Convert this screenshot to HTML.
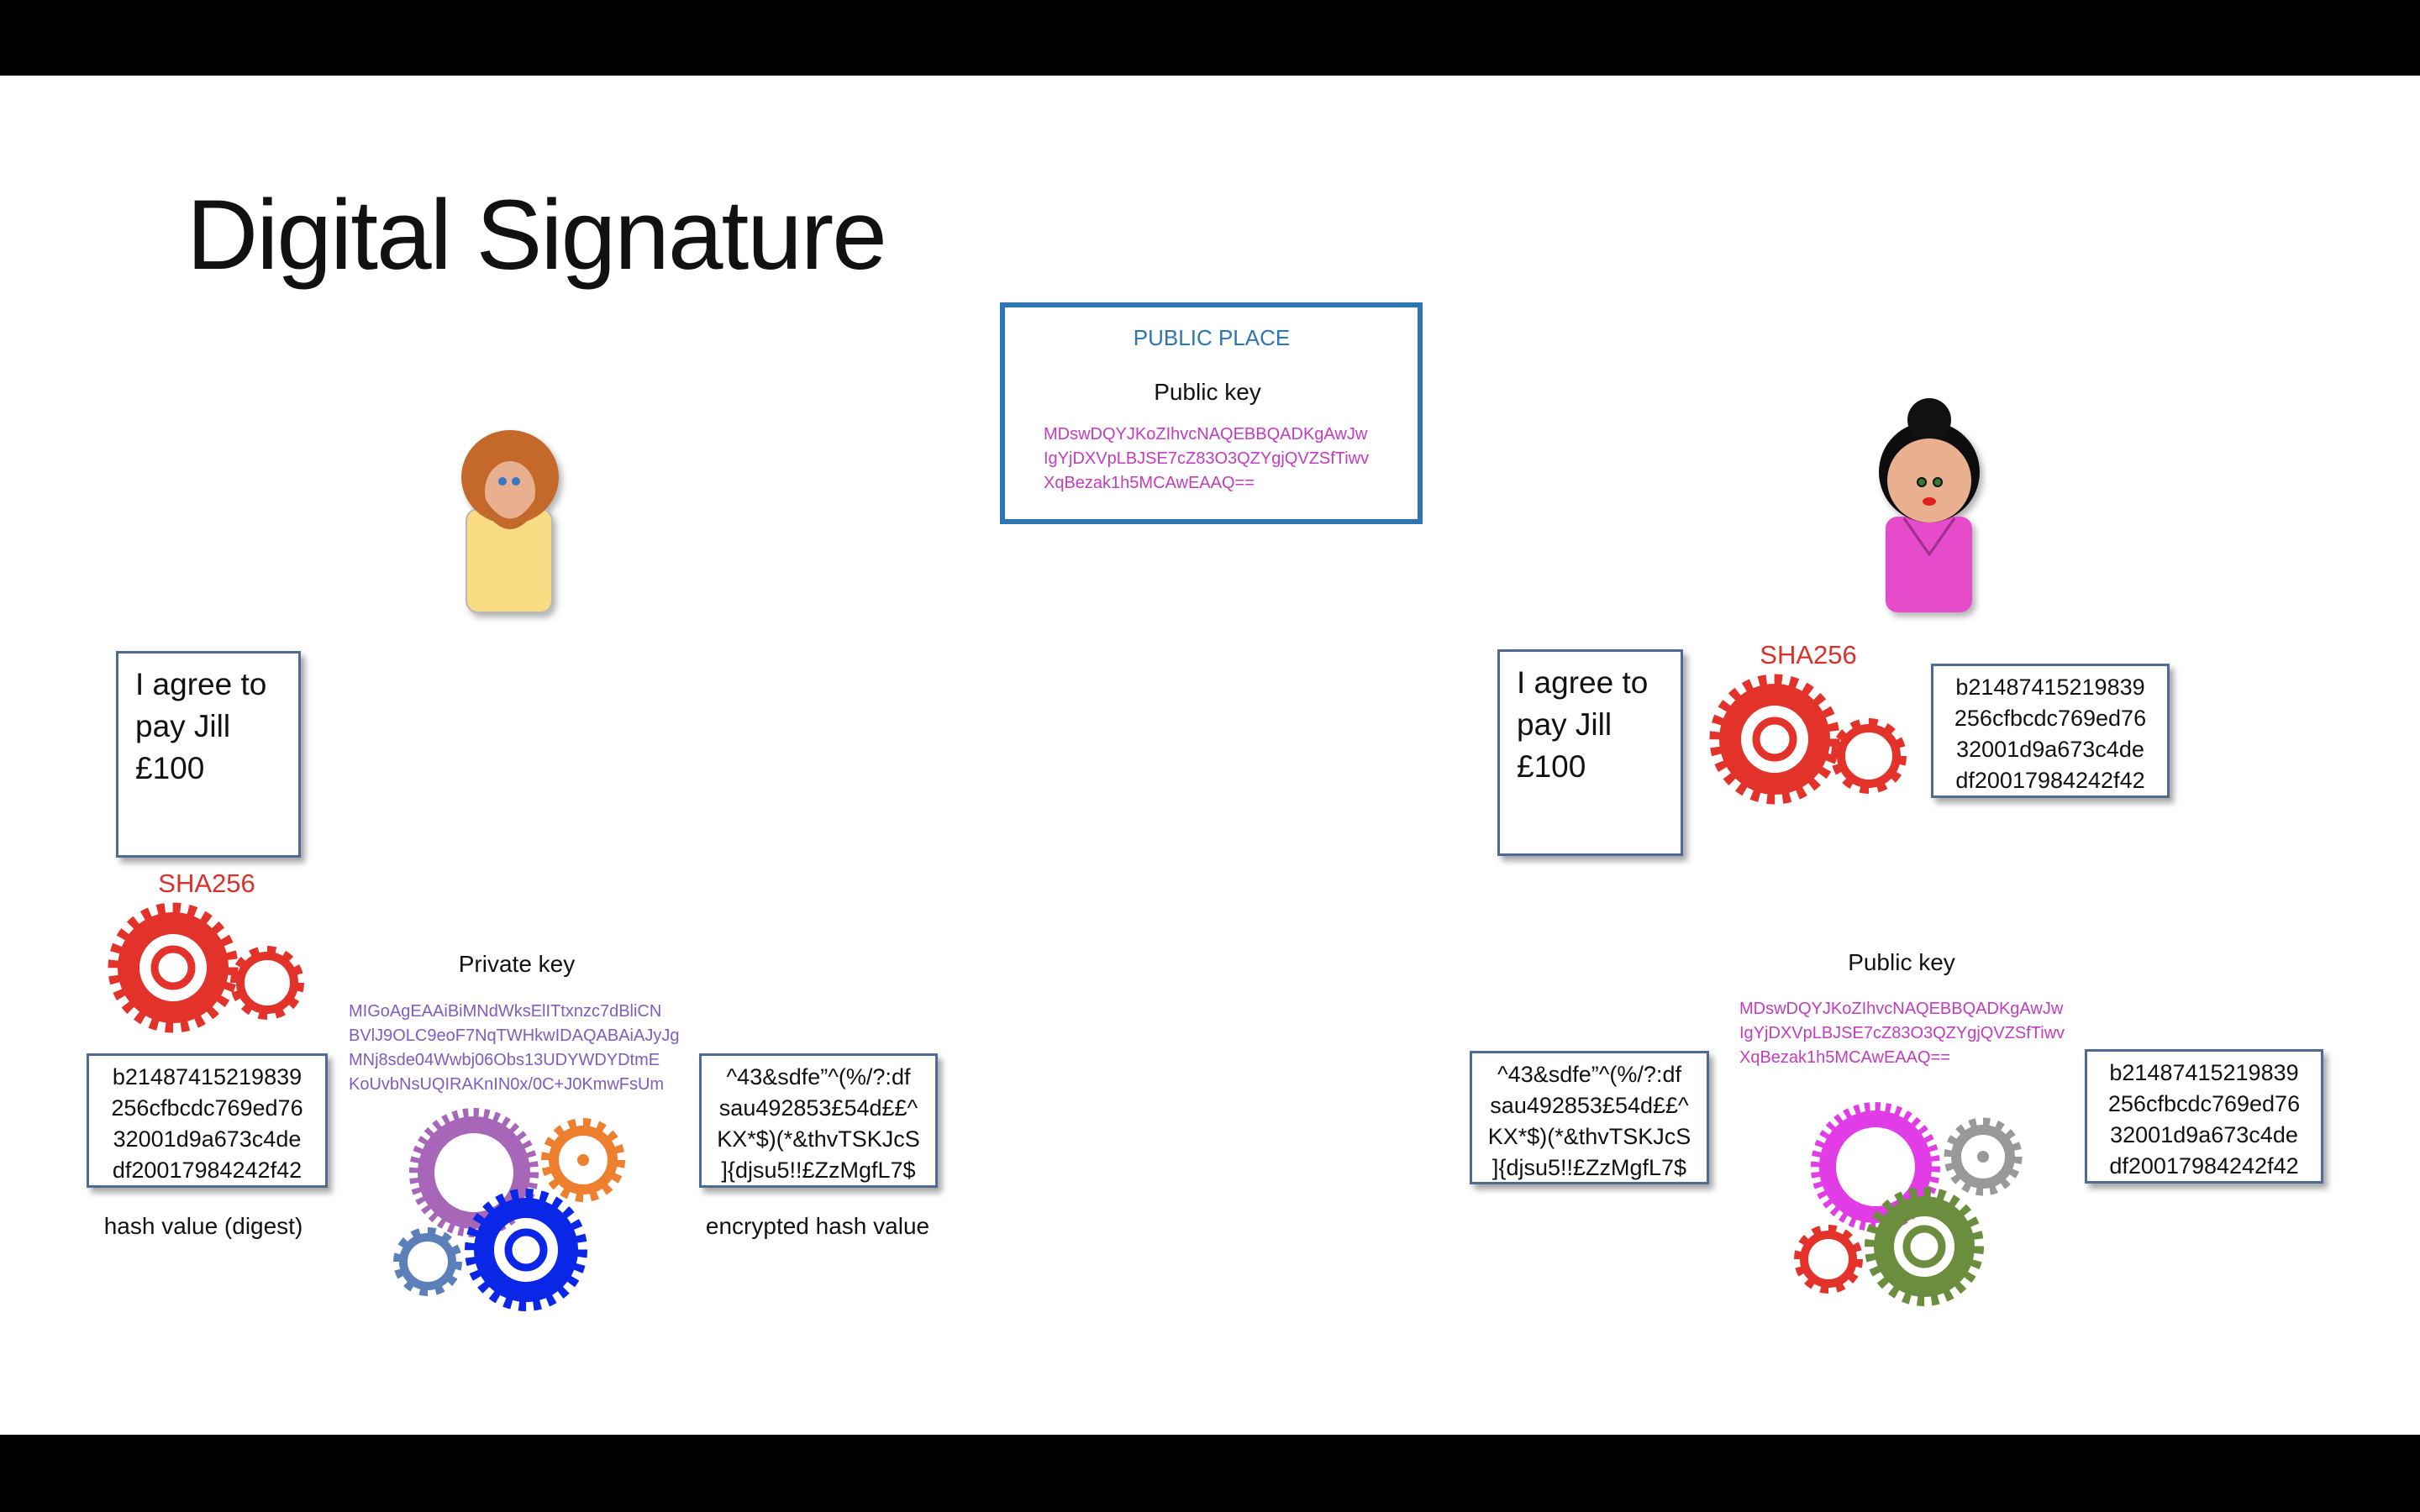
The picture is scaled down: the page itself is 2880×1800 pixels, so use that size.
<!DOCTYPE html>
<html><head><meta charset="utf-8"><style>
body{margin:0;width:2880px;height:1800px;background:#fff;position:relative;overflow:hidden;font-family:"Liberation Sans",sans-serif;}
.bar{position:absolute;left:0;width:2880px;background:#000;}
.t{position:absolute;white-space:nowrap;}
.box{position:absolute;background:#fff;border:3px solid #4f6b93;box-shadow:5px 6px 7px rgba(0,0,0,.35);box-sizing:border-box;}
.hash{font-size:27px;line-height:37px;text-align:center;color:#111;padding-top:7px;}
.doc{font-size:37px;line-height:50px;color:#111;padding:12px 0 0 20px;}
.c{transform:translateX(-50%);}
.key{font-size:20px;line-height:29px;}
</style></head><body>
<div class="bar" style="top:0;height:90px"></div>
<div class="bar" style="top:1708px;height:92px"></div>

<div class="t" style="left:222px;top:212px;font-size:118px;color:#111;letter-spacing:-2px">Digital Signature</div>

<div style="position:absolute;left:1190px;top:360px;width:503px;height:264px;border:6px solid #2e75b6;box-sizing:border-box"></div>
<div class="t c" style="left:1442px;top:387px;font-size:26px;color:#2e75b6">PUBLIC PLACE</div>
<div class="t c" style="left:1437px;top:451px;font-size:28px;color:#111">Public key</div>
<div class="t key" style="left:1242px;top:503px;color:#c23cc0">MDswDQYJKoZIhvcNAQEBBQADKgAwJw<br>IgYjDXVpLBJSE7cZ83O3QZYgjQVZSfTiwv<br>XqBezak1h5MCAwEAAQ==</div>

<!-- left -->
<div class="box doc" style="left:138px;top:775px;width:220px;height:246px">I agree to<br>pay Jill<br>£100</div>
<div class="t c" style="left:246px;top:1034px;font-size:31px;color:#d9302a">SHA256</div>
<div class="box hash" style="left:103px;top:1254px;width:287px;height:160px">b21487415219839<br>256cfbcdc769ed76<br>32001d9a673c4de<br>df20017984242f42</div>
<div class="t c" style="left:242px;top:1444px;font-size:28px;color:#111">hash value (digest)</div>
<div class="t c" style="left:615px;top:1132px;font-size:28px;color:#111">Private key</div>
<div class="t key" style="left:415px;top:1190px;color:#7e5cc0">MIGoAgEAAiBiMNdWksElITtxnzc7dBliCN<br>BVlJ9OLC9eoF7NqTWHkwIDAQABAiAJyJg<br>MNj8sde04Wwbj06Obs13UDYWDYDtmE<br>KoUvbNsUQIRAKnIN0x/0C+J0KmwFsUm</div>
<div class="box hash" style="left:832px;top:1254px;width:284px;height:160px">^43&amp;sdfe”^(%/?:df<br>sau492853£54d££^<br>KX*$)(*&amp;thvTSKJcS<br>]{djsu5!!£ZzMgfL7$</div>
<div class="t c" style="left:973px;top:1444px;font-size:28px;color:#111">encrypted hash value</div>

<!-- right -->
<div class="box doc" style="left:1782px;top:773px;width:221px;height:246px">I agree to<br>pay Jill<br>£100</div>
<div class="t c" style="left:2152px;top:762px;font-size:31px;color:#d9302a">SHA256</div>
<div class="box hash" style="left:2298px;top:790px;width:284px;height:160px">b21487415219839<br>256cfbcdc769ed76<br>32001d9a673c4de<br>df20017984242f42</div>
<div class="t c" style="left:2263px;top:1130px;font-size:28px;color:#111">Public key</div>
<div class="t key" style="left:2070px;top:1187px;color:#c23cc0">MDswDQYJKoZIhvcNAQEBBQADKgAwJw<br>IgYjDXVpLBJSE7cZ83O3QZYgjQVZSfTiwv<br>XqBezak1h5MCAwEAAQ==</div>
<div class="box hash" style="left:1749px;top:1251px;width:285px;height:159px">^43&amp;sdfe”^(%/?:df<br>sau492853£54d££^<br>KX*$)(*&amp;thvTSKJcS<br>]{djsu5!!£ZzMgfL7$</div>
<div class="box hash" style="left:2481px;top:1249px;width:284px;height:160px">b21487415219839<br>256cfbcdc769ed76<br>32001d9a673c4de<br>df20017984242f42</div>

<svg width="2880" height="1800" style="position:absolute;left:0;top:0" xmlns="http://www.w3.org/2000/svg">
<defs><filter id="sh"><feDropShadow dx="4" dy="5" stdDeviation="4" flood-opacity="0.3"/></filter></defs>
<!-- Jack -->
<g filter="url(#sh)">
<rect x="555" y="606" width="102" height="123" rx="14" fill="#f9dc84" stroke="#b8b8b8" stroke-width="2"/>
<ellipse cx="607" cy="568" rx="58" ry="56" fill="#c4692c"/>
</g>
<path d="M578 610 Q607 650 636 610" fill="#e8b08e"/>
<ellipse cx="607" cy="585" rx="30" ry="36" fill="#e8b08e"/>
<path d="M578 595 Q607 640 636 595 L636 610 Q607 650 578 610Z" fill="#c4692c"/>
<circle cx="598" cy="573" r="5" fill="#3a76c4"/><circle cx="614" cy="573" r="5" fill="#3a76c4"/>
<!-- Jill -->
<g filter="url(#sh)">
<rect x="2244" y="615" width="103" height="114" rx="14" fill="#e64ccc"/>
<circle cx="2296" cy="562" r="60" fill="#111"/>
</g>
<circle cx="2296" cy="500" r="26" fill="#111"/>
<circle cx="2296" cy="572" r="50" fill="#e8b08e"/>
<path d="M2266 617 L2296 660 L2326 617" fill="none" stroke="#9b2f8a" stroke-width="3"/>
<circle cx="2287" cy="574" r="5" fill="#3a7a30" stroke="#111" stroke-width="2"/><circle cx="2306" cy="574" r="5" fill="#3a7a30" stroke="#111" stroke-width="2"/>
<ellipse cx="2296" cy="597" rx="8" ry="5" fill="#e02020"/>

<!-- gear template usage: teeth ring + solid ring -->
<g id="g1">
<!-- left red -->
<circle cx="206" cy="1152" r="71" fill="none" stroke="#e2322a" stroke-width="13" pathLength="48" stroke-dasharray="1 1"/>
<circle cx="206" cy="1152" r="53" fill="none" stroke="#e2322a" stroke-width="26"/>
<circle cx="206" cy="1152" r="22" fill="none" stroke="#e2322a" stroke-width="9"/>
<circle cx="318" cy="1170" r="40" fill="none" stroke="#e2322a" stroke-width="8" pathLength="24" stroke-dasharray="1 1"/>
<circle cx="318" cy="1170" r="32" fill="none" stroke="#e2322a" stroke-width="10"/>
<!-- right red -->
<circle cx="2112" cy="880" r="71" fill="none" stroke="#e2322a" stroke-width="13" pathLength="48" stroke-dasharray="1 1"/>
<circle cx="2112" cy="880" r="53" fill="none" stroke="#e2322a" stroke-width="26"/>
<circle cx="2112" cy="880" r="22" fill="none" stroke="#e2322a" stroke-width="9"/>
<circle cx="2224" cy="900" r="41" fill="none" stroke="#e2322a" stroke-width="8" pathLength="24" stroke-dasharray="1 1"/>
<circle cx="2224" cy="900" r="33" fill="none" stroke="#e2322a" stroke-width="10"/>
<!-- middle left -->
<circle cx="564" cy="1396" r="71" fill="none" stroke="#a866b8" stroke-width="12" pathLength="72" stroke-dasharray="1 1"/>
<circle cx="564" cy="1396" r="57" fill="none" stroke="#a866b8" stroke-width="20"/>
<circle cx="694" cy="1381" r="45" fill="none" stroke="#ee7f2e" stroke-width="10" pathLength="32" stroke-dasharray="1 1"/>
<circle cx="694" cy="1381" r="35" fill="none" stroke="#ee7f2e" stroke-width="12"/>
<circle cx="694" cy="1381" r="7" fill="#ee7f2e"/>
<circle cx="509" cy="1502" r="37" fill="none" stroke="#5b7fb8" stroke-width="8" pathLength="24" stroke-dasharray="1 1"/>
<circle cx="509" cy="1502" r="29" fill="none" stroke="#5b7fb8" stroke-width="10"/>
<circle cx="626" cy="1488" r="67" fill="none" stroke="#0a26e6" stroke-width="12" pathLength="48" stroke-dasharray="1 1"/>
<circle cx="626" cy="1488" r="50" fill="none" stroke="#0a26e6" stroke-width="24"/>
<circle cx="626" cy="1488" r="21" fill="none" stroke="#0a26e6" stroke-width="9"/>
<!-- right bottom -->
<circle cx="2232" cy="1389" r="71" fill="none" stroke="#e23ce6" stroke-width="12" pathLength="72" stroke-dasharray="1 1"/>
<circle cx="2232" cy="1389" r="57" fill="none" stroke="#e23ce6" stroke-width="20"/>
<circle cx="2360" cy="1377" r="42" fill="none" stroke="#999" stroke-width="9" pathLength="32" stroke-dasharray="1 1"/>
<circle cx="2360" cy="1377" r="32" fill="none" stroke="#999" stroke-width="12"/>
<circle cx="2360" cy="1377" r="7" fill="#999"/>
<circle cx="2176" cy="1499" r="37" fill="none" stroke="#e2322a" stroke-width="8" pathLength="24" stroke-dasharray="1 1"/>
<circle cx="2176" cy="1499" r="29" fill="none" stroke="#e2322a" stroke-width="10"/>
<circle cx="2290" cy="1484" r="65" fill="none" stroke="#6b8e3e" stroke-width="12" pathLength="48" stroke-dasharray="1 1"/>
<circle cx="2290" cy="1484" r="48" fill="none" stroke="#6b8e3e" stroke-width="24"/>
<circle cx="2290" cy="1484" r="21" fill="none" stroke="#6b8e3e" stroke-width="9"/>
</g>
</svg>
</body></html>
